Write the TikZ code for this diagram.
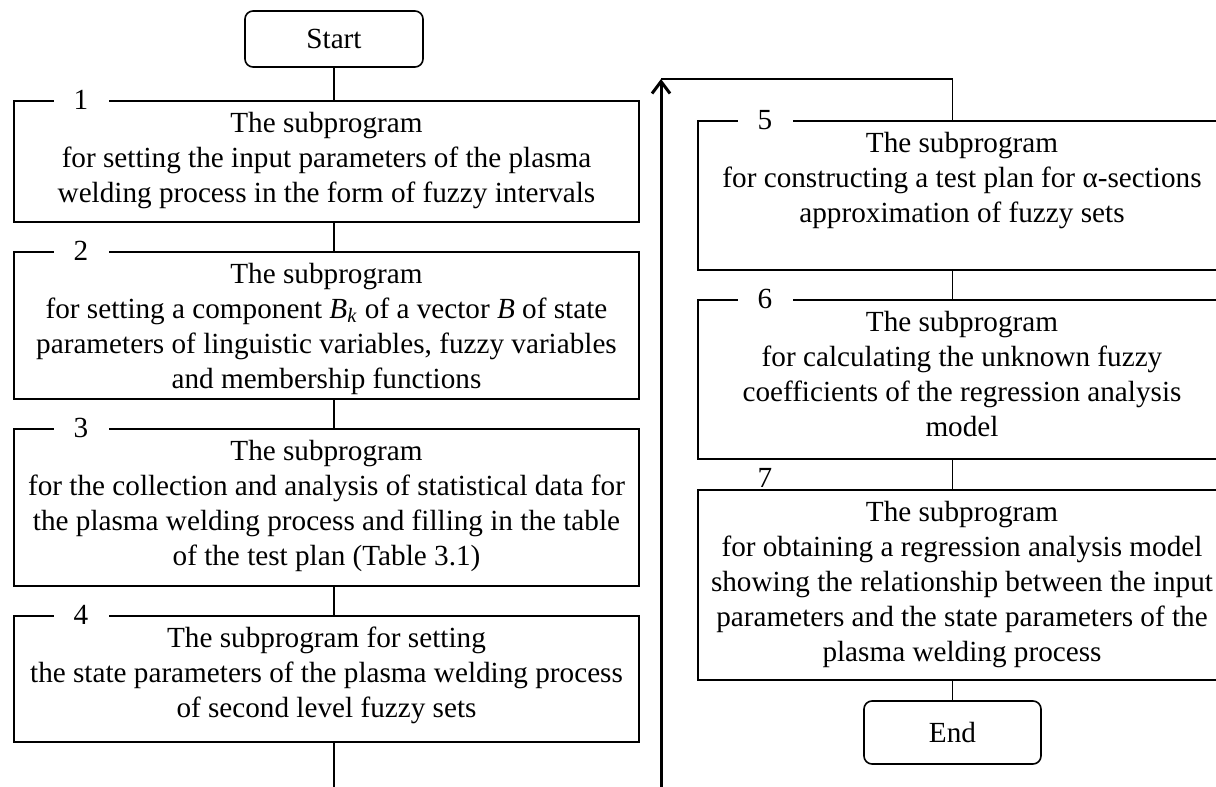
\documentclass[tikz,border=0pt]{standalone}
\usepackage{fontspec}
\setmainfont{Liberation Serif}
\usetikzlibrary{positioning,arrows.meta}

\begin{document}
\begin{tikzpicture}[x=0.5pt,y=-0.5pt,
	box/.style = {draw,line width=1pt,inner sep=0pt,anchor=north west},
	term/.style = {draw,line width=0.8pt,rounded corners=4pt,inner sep=0pt,font=\fontsize{14.6}{17.5}\selectfont},
	txt/.style = {align=center,inner sep=0pt,font=\fontsize{14.6}{17.5}\selectfont},
	num/.style = {fill=white,inner sep=0pt,minimum width=27.5pt,font=\fontsize{14.6}{17.5}\selectfont},
	link/.style = {line width=0.7pt}]
	\clip (0,0) rectangle (1216,787);

	\node[term, minimum width=89pt, minimum height=28pt] (start) at (334,39) {Start};
	\node[term, minimum width=88.5pt, minimum height=31.5pt] (end) at (952.5,732.5) {End};

	\node[box, minimum width=312.5pt, minimum height=60.5pt] (b1) at (13,100) {};
	\node[box, minimum width=312.5pt, minimum height=73.5pt] (b2) at (13,251) {};
	\node[box, minimum width=312.5pt, minimum height=78.5pt] (b3) at (13,428) {};
	\node[box, minimum width=312.5pt, minimum height=63pt] (b4) at (13,615) {};
	\node[box, minimum width=264pt, minimum height=74.5pt] (b5) at (697,120) {};
	\node[box, minimum width=264pt, minimum height=79.5pt] (b6) at (697,299) {};
	\node[box, minimum width=264pt, minimum height=95pt] (b7) at (697,489) {};

	\node[txt, below=6pt of b1.north] (t1) {The subprogram\\for setting the input parameters of the plasma\\welding process in the form of fuzzy intervals};
	\node[txt, below=6pt of b2.north] (t2) {The subprogram\\for setting a component \textit{B}\textsubscript{\textit{k}} of a vector \textit{B} of state\\parameters of linguistic variables, fuzzy variables\\and membership functions};
	\node[txt, below=6pt of b3.north] (t3) {The subprogram\\for the collection and analysis of statistical data for\\the plasma welding process and filling in the table\\of the test plan (Table 3.1)};
	\node[txt, below=6pt of b4.north] (t4) {The subprogram for setting\\the state parameters of the plasma welding process\\of second level fuzzy sets};
	\node[txt, below=6pt of b5.north] (t5) {The subprogram\\for constructing a test plan for α-sections\\approximation of fuzzy sets};
	\node[txt, below=6pt of b6.north] (t6) {The subprogram\\for calculating the unknown fuzzy\\coefficients of the regression analysis\\model};
	\node[txt, below=6pt of b7.north] (t7) {The subprogram\\for obtaining a regression analysis model\\showing the relationship between the input\\parameters and the state parameters of the\\plasma welding process};

	\node[num] (n1) at ([xshift=34pt]b1.north west) {1};
	\node[num] (n2) at ([xshift=34pt]b2.north west) {2};
	\node[num] (n3) at ([xshift=34pt]b3.north west) {3};
	\node[num] (n4) at ([xshift=34pt]b4.north west) {4};
	\node[num] (n5) at ([xshift=34pt]b5.north west) {5};
	\node[num] (n6) at ([xshift=34pt]b6.north west) {6};
	\node[num] (n7) at ([xshift=34pt,yshift=5.5pt]b7.north west) {7};

	% left column
	\draw[link] (start) -- (start |- b1.north);
	\draw[link] (start |- b1.south) -- (start |- b2.north);
	\draw[link] (start |- b2.south) -- (start |- b3.north);
	\draw[link] (start |- b3.south) -- (start |- b4.north);
	\coordinate (up) at (661,790);
	\coordinate (turn) at (661,79);
	\draw[link] (start |- b4.south) -- (start |- up);

	% back up to the right column
	\draw[line width=1.5pt,-{Straight Barb[length=6pt,width=9pt]}] (up) -- (turn);
	\draw[link] (turn) -| (end |- b5.north);

	% right column
	\draw[link] (end |- b5.south) -- (end |- b6.north);
	\draw[link] (end |- b6.south) -- (end |- b7.north);
	\draw[link] (end |- b7.south) -- (end);
\end{tikzpicture}
\end{document}
